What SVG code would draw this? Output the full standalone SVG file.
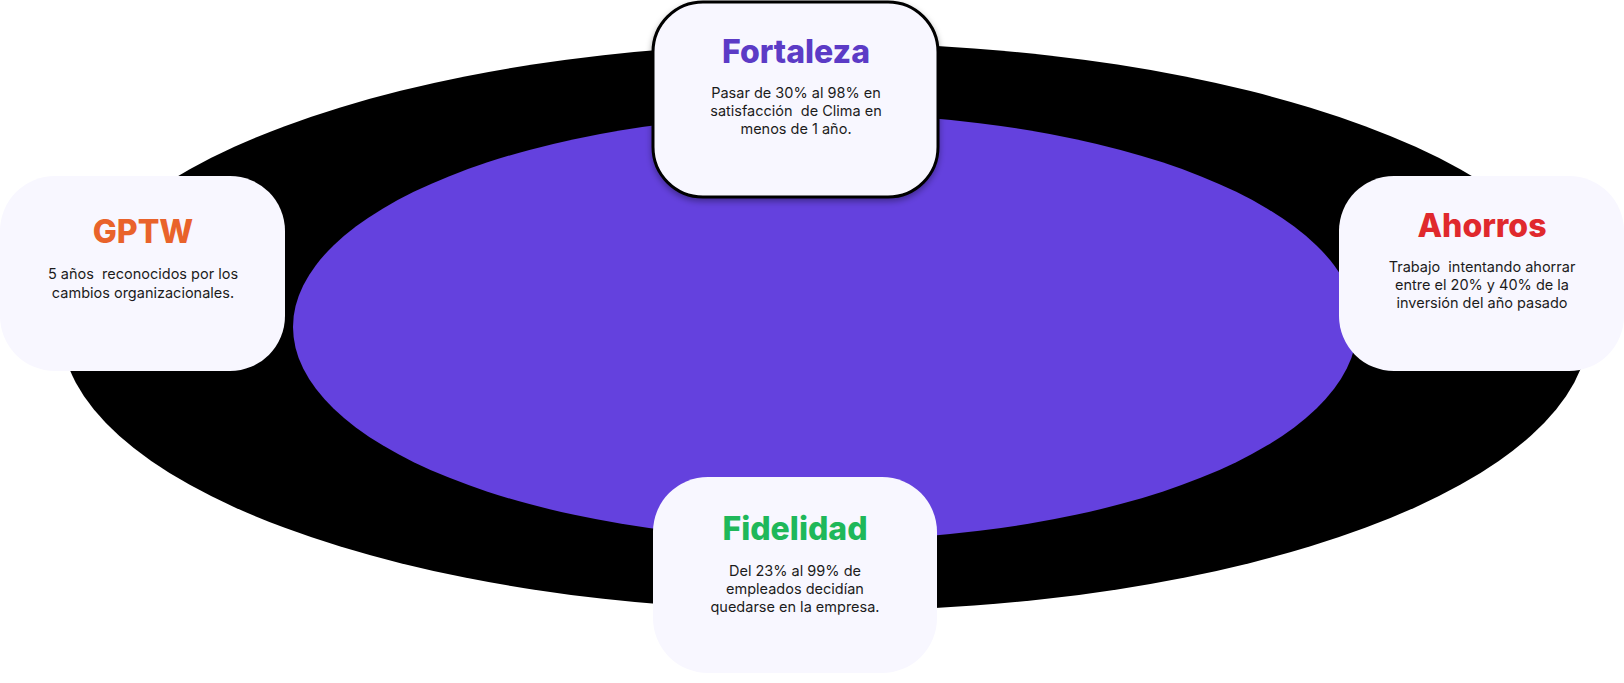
<svg xmlns="http://www.w3.org/2000/svg" width="1624" height="683" viewBox="0 0 1624 683">
<style>
.card{fill:#F8F7FF}
.title{font-family:Inter,"Liberation Sans",sans-serif;font-weight:800;font-size:32px;text-anchor:middle}
.body{font-family:Inter,"Liberation Sans",sans-serif;font-size:14.5px;fill:#1c1c1c;text-anchor:middle;white-space:pre}
</style>
<defs>
<filter id="sh" x="-10%" y="-10%" width="120%" height="130%">
<feDropShadow dx="0" dy="3" stdDeviation="3" flood-color="#000" flood-opacity="0.35"/>
</filter>
</defs>
<rect width="1624" height="683" fill="#ffffff"/>
<g id="background">
<ellipse cx="825" cy="327" rx="764" ry="284" fill="#000000"/>
<ellipse cx="825" cy="327" rx="532" ry="213" fill="#6441DE"/>
</g>
<g id="connectors"></g>
<g id="fortaleza">
<rect class="card" x="653" y="2" width="285" height="195" rx="50" ry="50" stroke="#000" stroke-width="3" filter="url(#sh)"/>
<text class="title" x="796" y="63" fill="#5C3BC6">Fortaleza</text>
<text class="body" x="796" y="98">Pasar de 30% al 98% en</text>
<text class="body" x="796" y="116" xml:space="preserve">satisfacción  de Clima en</text>
<text class="body" x="796" y="134">menos de 1 año.</text>
</g>
<g id="gptw">
<rect class="card" x="0" y="176" width="285" height="195" rx="55" ry="55"/>
<text class="title" x="143" y="243" fill="#E9632B">GPTW</text>
<text class="body" x="143" y="279" xml:space="preserve">5 años  reconocidos por los</text>
<text class="body" x="143" y="298">cambios organizacionales.</text>
</g>
<g id="ahorros">
<rect class="card" x="1339" y="176" width="285" height="195" rx="55" ry="55"/>
<text class="title" x="1482" y="237" fill="#E0292D">Ahorros</text>
<text class="body" x="1482" y="272" xml:space="preserve">Trabajo  intentando ahorrar</text>
<text class="body" x="1482" y="290">entre el 20% y 40% de la</text>
<text class="body" x="1482" y="308">inversión del año pasado</text>
</g>
<g id="fidelidad">
<rect class="card" x="653" y="477" width="284" height="196" rx="55" ry="55"/>
<text class="title" x="795" y="540" fill="#1FB85A">Fidelidad</text>
<text class="body" x="795" y="576">Del 23% al 99% de</text>
<text class="body" x="795" y="594">empleados decidían</text>
<text class="body" x="795" y="612">quedarse en la empresa.</text>
</g>
</svg>
